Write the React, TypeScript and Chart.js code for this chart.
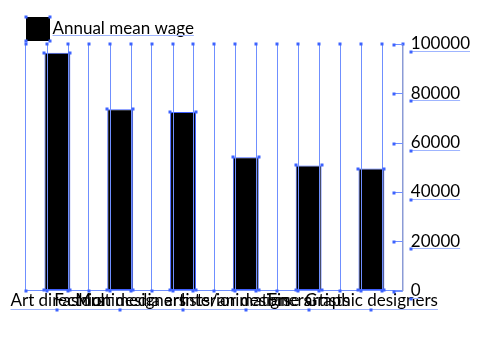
import React, { useEffect, useRef } from 'react';
import { Chart, registerables } from 'chart.js';

Chart.register(...registerables);

// ---- data ----
const categories = [
  'Art directors',
  'Fashion designers',
  'Multimedia artists/animators',
  'Interior designers',
  'Fine artists',
  'Graphic designers',
];
const seriesLabel = 'Annual mean wage';
const wages = [96500, 73500, 72400, 54100, 50750, 49500];
const yMin = 0;
const yMax = 100000;
const yStep = 20000;

// ---- style ----
const FONT = 'Lato, "Noto Sans", sans-serif';
const FS = 17;
const LINE = '#6f8fff';
const AXIS = '#8b9bd6';
const UNDER = '#9fb5ff';
const DOT = '#3d63ff';

function makeLegendBox(): HTMLCanvasElement {
  const c = document.createElement('canvas');
  c.width = 24;
  c.height = 24;
  const g = c.getContext('2d')!;
  g.fillStyle = '#000';
  g.fillRect(0, 0, 24, 24);
  return c;
}

function dot(ctx: CanvasRenderingContext2D, x: number, y: number) {
  ctx.fillStyle = DOT;
  ctx.fillRect(Math.round(x) - 1.5, Math.round(y) - 1.5, 3, 3);
}

const decor = {
  id: 'decor',
  afterDatasetsDraw(chart: any) {
    const { ctx, scales } = chart;
    const x = scales.x;
    const y = scales.y;
    const top = y.getPixelForValue(yMax);
    const bottom = y.getPixelForValue(yMin);
    const catW = x.getPixelForValue(1) - x.getPixelForValue(0);
    ctx.save();
    // third-lines of every category
    ctx.strokeStyle = LINE;
    ctx.lineWidth = 1;
    categories.forEach((_, i) => {
      const c = x.getPixelForValue(i);
      [c - catW / 6, c + catW / 6].forEach((px) => {
        const xx = Math.round(px) + 0.5;
        ctx.beginPath();
        ctx.moveTo(xx, top);
        ctx.lineTo(xx, bottom);
        ctx.stroke();
      });
    });
    // dots at every vertical line end
    categories.forEach((_, i) => {
      const c = x.getPixelForValue(i);
      [c - catW / 2, c - catW / 6, c + catW / 6].forEach((px) => {
        dot(ctx, px, top);
        dot(ctx, px, bottom);
      });
    });
    dot(ctx, x.getPixelForValue(categories.length - 1) + catW / 2, top);
    // bar corner dots
    const meta = chart.getDatasetMeta(0);
    meta.data.forEach((bar: any) => {
      const hw = bar.width / 2;
      dot(ctx, bar.x - hw, bar.y);
      dot(ctx, bar.x + hw, bar.y);
      dot(ctx, bar.x - hw, bar.base);
      dot(ctx, bar.x + hw, bar.base);
    });
    // inner tick marks of the right axis + label underlines
    ctx.font = `${FS}px ${FONT}`;
    y.ticks.forEach((t: any) => {
      const py = Math.round(y.getPixelForValue(t.value)) + 0.5;
      ctx.strokeStyle = LINE;
      ctx.beginPath();
      ctx.moveTo(y.left - 9, py);
      ctx.lineTo(y.left, py);
      ctx.stroke();
      dot(ctx, y.left - 9, py);
      const w = ctx.measureText(String(t.value)).width;
      ctx.strokeStyle = UNDER;
      ctx.beginPath();
      ctx.moveTo(y.left + 8, py + 7);
      ctx.lineTo(y.left + 8 + w, py + 7);
      ctx.stroke();
      dot(ctx, y.left + 8, py + 7);
    });
    // category label underline
    const firstW = ctx.measureText(categories[0]).width;
    const lastW = ctx.measureText(categories[categories.length - 1]).width;
    const ux0 = x.getPixelForValue(0) - firstW / 2;
    const ux1 = x.getPixelForValue(categories.length - 1) + lastW / 2;
    const uy = Math.round(bottom) + 18.5;
    ctx.strokeStyle = UNDER;
    ctx.beginPath();
    ctx.moveTo(ux0, uy);
    ctx.lineTo(ux1, uy);
    ctx.stroke();
    categories.forEach((_, i) => dot(ctx, x.getPixelForValue(i), uy));
    // legend decorations
    const hb = chart.legend && chart.legend.legendHitBoxes && chart.legend.legendHitBoxes[0];
    if (hb) {
      const textW = ctx.measureText(seriesLabel).width;
      const tx1 = hb.left + hb.width;
      const tx0 = tx1 - textW;
      const cy = hb.top + hb.height / 2;
      const ly = Math.round(cy) + 6.5;
      ctx.strokeStyle = UNDER;
      ctx.beginPath();
      ctx.moveTo(tx0, ly);
      ctx.lineTo(tx1, ly);
      ctx.stroke();
      const bx0 = tx0 - 3 - 24;
      const by0 = cy - 12;
      dot(ctx, bx0, by0);
      dot(ctx, bx0 + 24, by0);
      dot(ctx, bx0, by0 + 24);
      dot(ctx, bx0 + 24, by0 + 24);
    }
    ctx.restore();
  },
};

export default function App() {
  const ref = useRef<HTMLCanvasElement | null>(null);
  useEffect(() => {
    if (!ref.current) return;
    const box = makeLegendBox();
    const chart = new Chart(ref.current, {
      type: 'bar',
      data: {
        labels: categories,
        datasets: [
          {
            label: seriesLabel,
            data: wages,
            backgroundColor: '#000',
            borderColor: '#3f5fff',
            borderWidth: 1,
            borderSkipped: false,
            barPercentage: 26 / 63,
            categoryPercentage: 1,
          },
        ],
      },
      options: {
        responsive: false,
        animation: false,
        layout: { padding: { left: 26, right: 22, top: 15, bottom: 29 } },
        plugins: {
          tooltip: { enabled: false },
          legend: {
            position: 'top',
            align: 'start',
            maxHeight: 29,
            labels: {
              usePointStyle: true,
              pointStyle: box as any,
              pointStyleWidth: 13,
              padding: 5,
              color: '#000',
              font: { family: FONT, size: FS },
            },
          },
        },
        scales: {
          x: {
            offset: true,
            grid: { color: LINE, lineWidth: 1, drawTicks: false, offset: true },
            border: { color: LINE, width: 1 },
            ticks: {
              autoSkip: false,
              maxRotation: 0,
              minRotation: 0,
              padding: 0,
              color: '#000',
              font: { family: FONT, size: FS },
            },
          },
          y: {
            position: 'right',
            min: yMin,
            max: yMax,
            grid: { drawOnChartArea: false, drawTicks: false },
            border: { color: AXIS, width: 1.5 },
            ticks: {
              stepSize: yStep,
              padding: 8,
              color: '#000',
              font: { family: FONT, size: FS },
              callback: (v: any) => String(v),
            },
          },
        },
      },
      plugins: [decor],
    });
    return () => chart.destroy();
  }, []);
  return (
    <div style={{ position: 'fixed', left: 0, top: 0, width: 500, height: 340, background: '#fff' }}>
      <canvas ref={ref} width={500} height={340} style={{ display: 'block' }} />
    </div>
  );
}
